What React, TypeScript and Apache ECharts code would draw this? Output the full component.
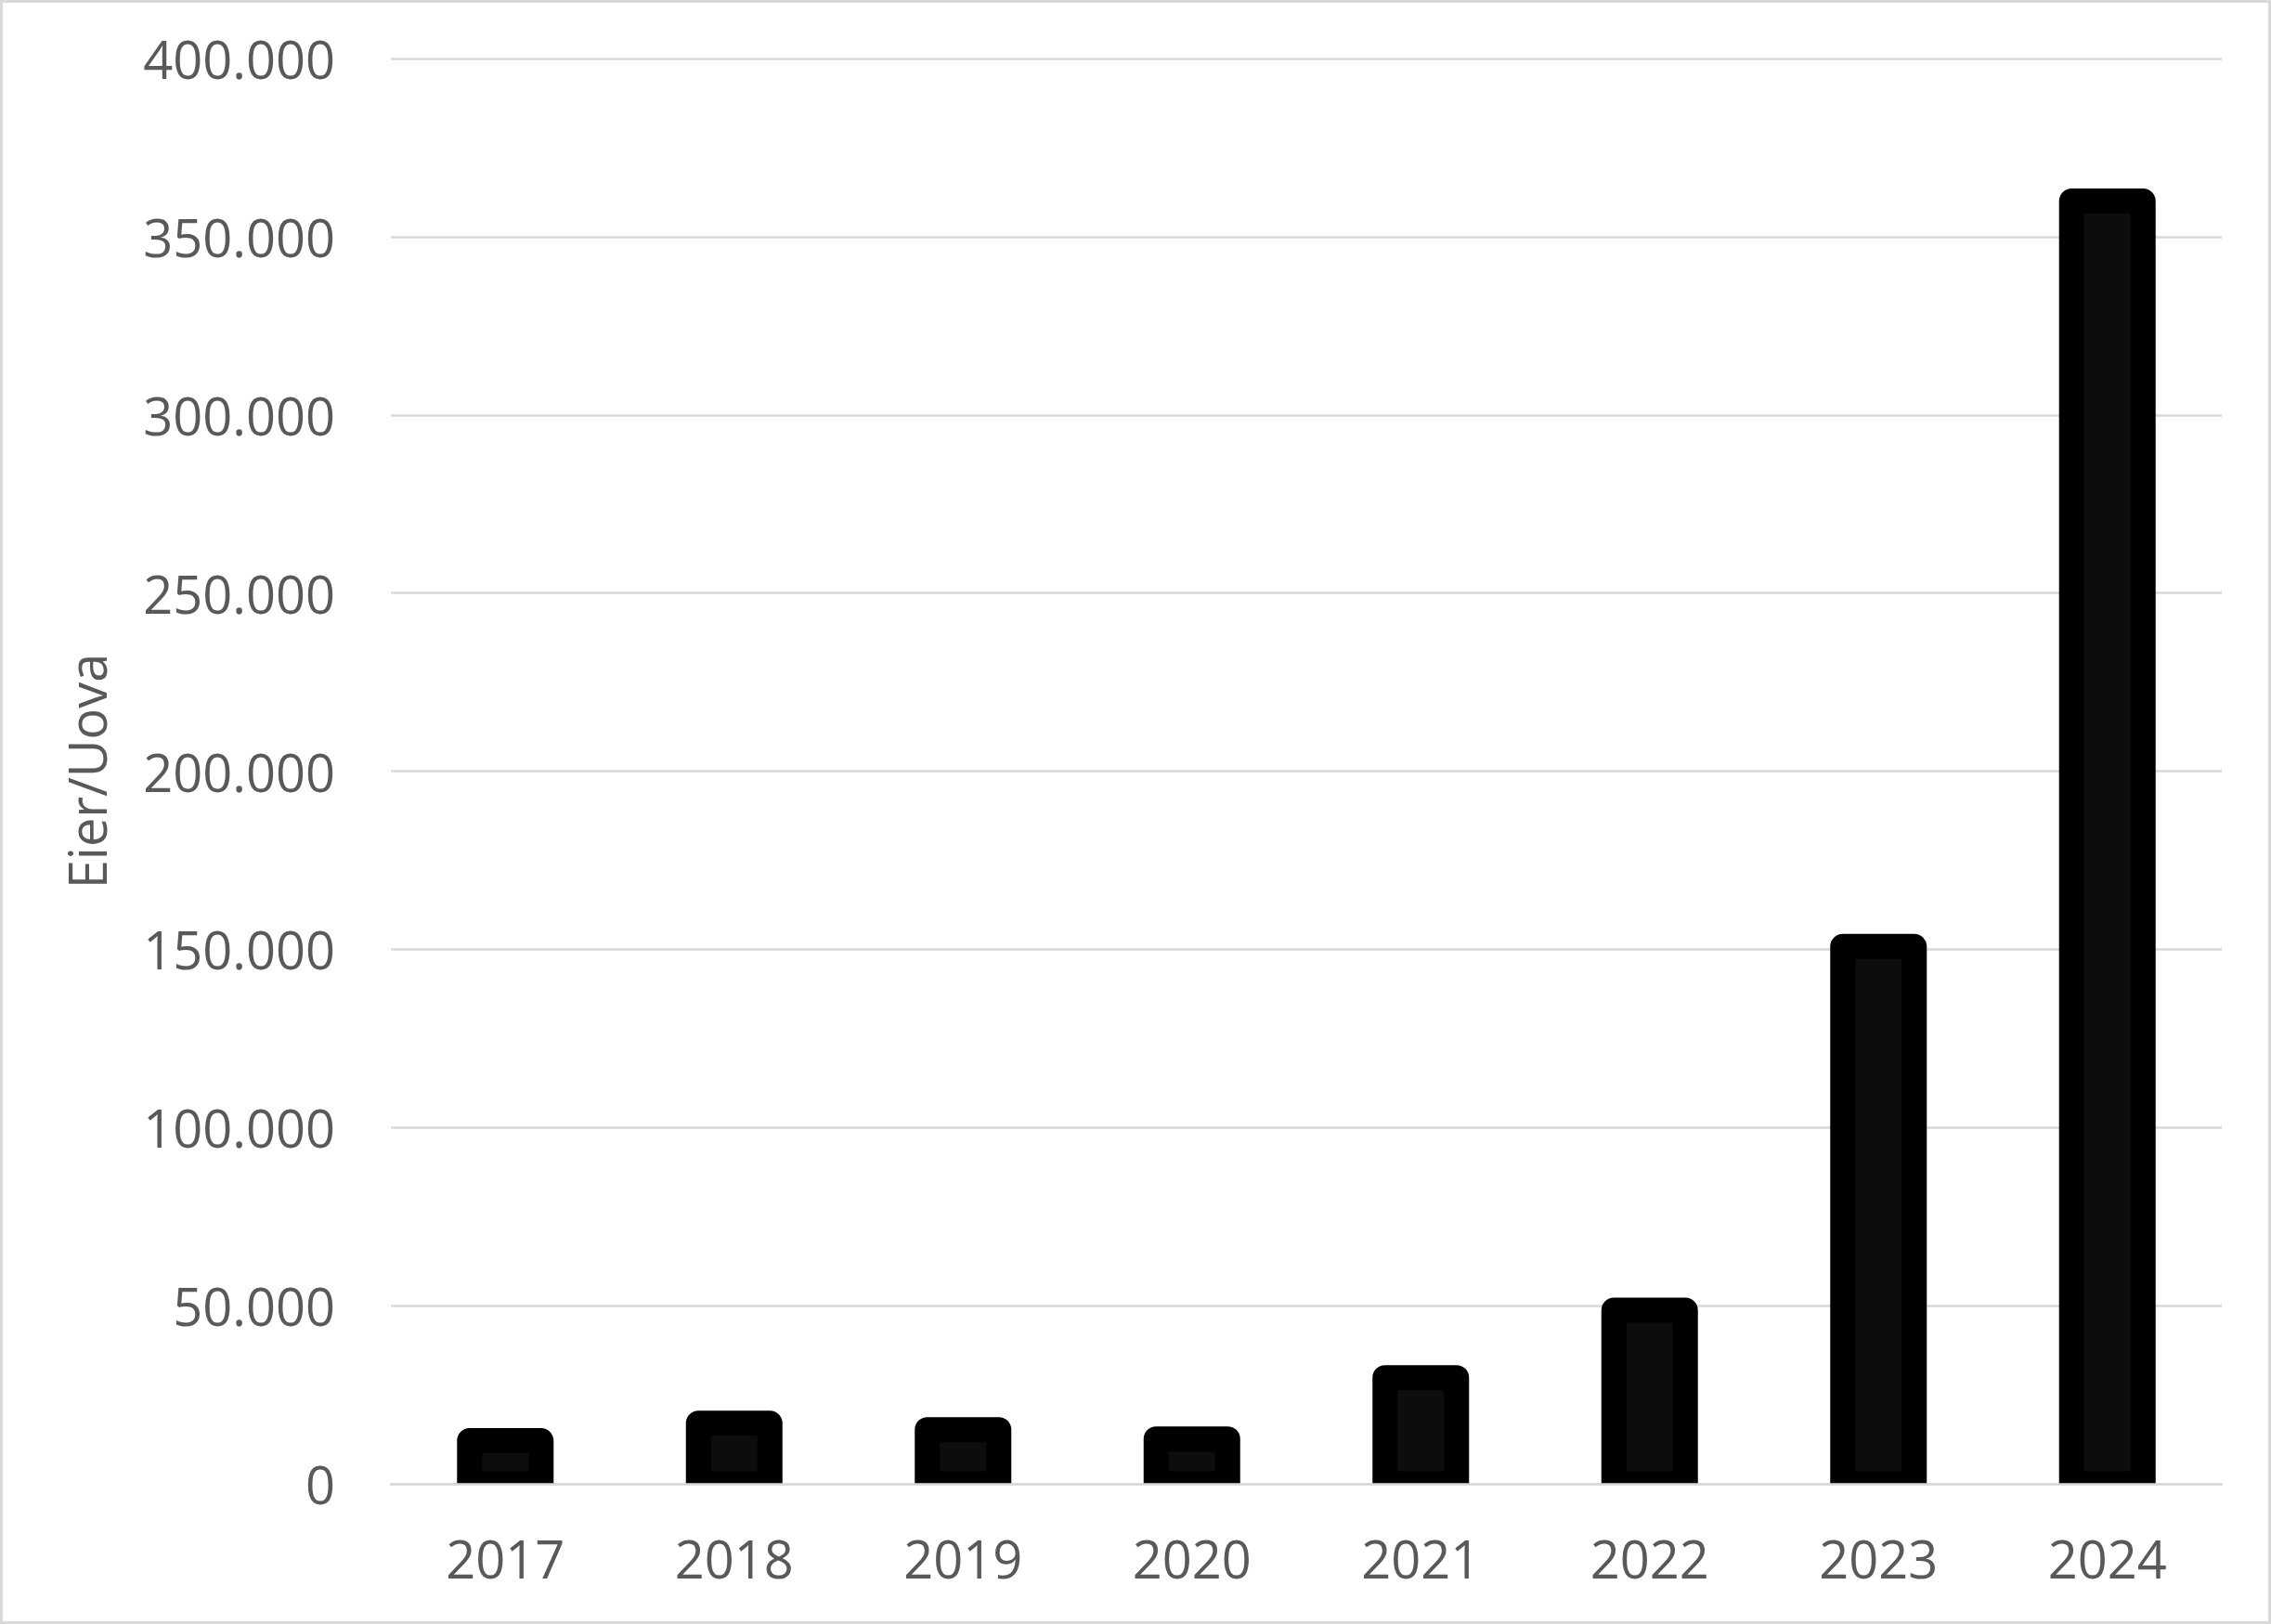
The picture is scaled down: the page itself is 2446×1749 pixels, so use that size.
import React, { useEffect, useRef } from 'react'
import * as echarts from 'echarts'

const years = ['2017', '2018', '2019', '2020', '2021', '2022', '2023', '2024']
const eggs = [12100, 17000, 15200, 12600, 29800, 48700, 150800, 360000]
const yTicks = [0, 50000, 100000, 150000, 200000, 250000, 300000, 350000, 400000]

const W = 2446
const H = 1749
const GRID = { left: 421, right: 53, top: 63, bottom: 151 }
const FONT = '"Open Sans", sans-serif'
const TEXT = '#595959'
const LINE = '#d9d9d9'
const BAR_W = 77
const BAR_BORDER = 27

const fmt = (v: number) => String(v).replace(/\B(?=(\d{3})+(?!\d))/g, '.')

export default function App() {
  const chartRef: any = useRef()

  useEffect(() => {
    const myChart = echarts.init(chartRef.current, null, { renderer: 'svg' })
    const option = {
      animation: false,
      backgroundColor: '#ffffff',
      grid: { ...GRID, containLabel: false },
      xAxis: {
        type: 'category',
        data: years,
        z: 10,
        axisTick: { show: false },
        axisLine: { show: true, lineStyle: { color: LINE, width: 2.5 } },
        axisLabel: { color: TEXT, fontFamily: FONT, fontSize: 56, margin: 52 }
      },
      yAxis: {
        type: 'value',
        min: yTicks[0],
        max: yTicks[yTicks.length - 1],
        interval: yTicks[1] - yTicks[0],
        name: 'Eier/Uova',
        nameLocation: 'middle',
        nameGap: 300,
        nameTextStyle: { color: TEXT, fontFamily: FONT, fontSize: 56 },
        axisLine: { show: false },
        axisTick: { show: false },
        splitLine: { show: true, lineStyle: { color: LINE, width: 2.5 } },
        axisLabel: { color: TEXT, fontFamily: FONT, fontSize: 56, margin: 60, formatter: (v: number) => fmt(v) }
      },
      graphic: [
        // chart frame
        {
          type: 'rect',
          shape: { x: 1.5, y: 1.5, width: W - 3, height: H - 3 },
          style: { fill: 'none', stroke: LINE, lineWidth: 3 },
          silent: true
        }
      ],
      series: [
        {
          // bars with a thick outline centred on the value edge (Excel style)
          type: 'custom',
          clip: true,
          data: eggs.map((v, i) => [i, v]),
          encode: { x: 0, y: 1 },
          renderItem: (params: any, api: any) => {
            const base = api.coord([api.value(0), 0])
            const top = api.coord([api.value(0), api.value(1)])
            return {
              type: 'rect',
              shape: { x: top[0] - BAR_W / 2, y: top[1], width: BAR_W, height: base[1] - top[1] },
              style: { fill: '#0d0d0d', stroke: '#000000', lineWidth: BAR_BORDER, lineJoin: 'round' }
            }
          }
        }
      ]
    }
    myChart.setOption(option)
    return () => {
      myChart.dispose()
    }
  }, [])

  return <div ref={chartRef} style={{ position: 'fixed', left: 0, top: 0, width: `${W}px`, height: `${H}px` }} />
}
